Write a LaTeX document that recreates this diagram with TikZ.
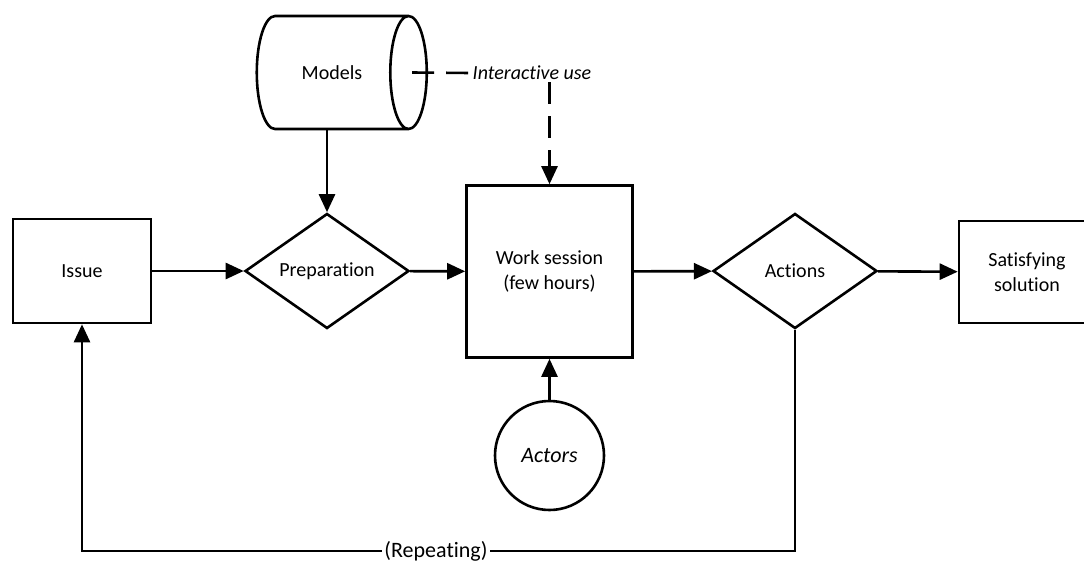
\documentclass[tikz,border=0pt]{standalone}
\usepackage{fontspec}
\setmainfont{Carlito}[Ligatures=NoCommon]
\usetikzlibrary{shapes.geometric,arrows.meta}

\begin{document}
\begin{tikzpicture}[x=1pt,y=-1pt,line width=2.6pt,
    >={Triangle[length=18pt,width=16pt]},
    every node/.style={font=\fontsize{20}{25}\selectfont,align=center},
    box/.style={draw,rectangle,inner sep=0pt},
    choice/.style={draw,diamond,inner sep=0pt,minimum width=164pt,minimum height=115pt},
    flow/.style={->},
    hint/.style={dash pattern=on 22pt off 12pt}]
    \useasboundingbox (0,0) rectangle (1084,563);
    \fill[white] (0,0) rectangle (1084,563);

    \node[box,minimum width=138pt,minimum height=104pt] (issue) at (82,271) {Issue};
    \node[choice] (prep) at (327,271) {Preparation};
    \node[box,minimum width=166pt,minimum height=172pt] (work) at (549.5,271.5) {Work session\\(few hours)};
    \node[choice] (act) at (795,271) {Actions};
    \node[box,minimum width=136pt,minimum height=102pt] (sol) at (1027,272) {Satisfying\\solution};
    \node[draw,circle,minimum size=109pt,inner sep=0pt,font=\fontsize{22}{26}\selectfont\itshape] (actors) at (549.5,455.5) {Actors};
    \node[draw,cylinder,shape border rotate=0,shape aspect=2.6,minimum width=113pt,minimum height=170pt,inner sep=0pt] (models) at (332,72.5) {Models};
    \node[inner sep=1pt,font=\fontsize{20}{25}\selectfont\itshape] (use) at (532,73) {Interactive use};

    \draw[flow] (issue) -- (prep);
    \draw[flow] (prep) -- (work);
    \draw[flow] (work) -- (act);
    \draw[flow] (act) -- (sol);
    \draw[flow] (models.south -| prep.north) -- (prep.north);
    \draw[flow] (actors) -- (work);

    % interactive use of the models during the session
    \draw[hint] ([xshift=-16pt]models.top) -- (use.west);
    \draw[hint,->] (use.south -| work.north) -- (work.north);

    % loop back to a new issue
    \coordinate (back) at (436,551);
    \draw[flow] (act.south) |- (back) -| (issue.south);
    \node[fill=white,inner sep=2pt,font=\fontsize{22}{25}\selectfont] (rep) at (back) {(Repeating)};
\end{tikzpicture}
\end{document}
